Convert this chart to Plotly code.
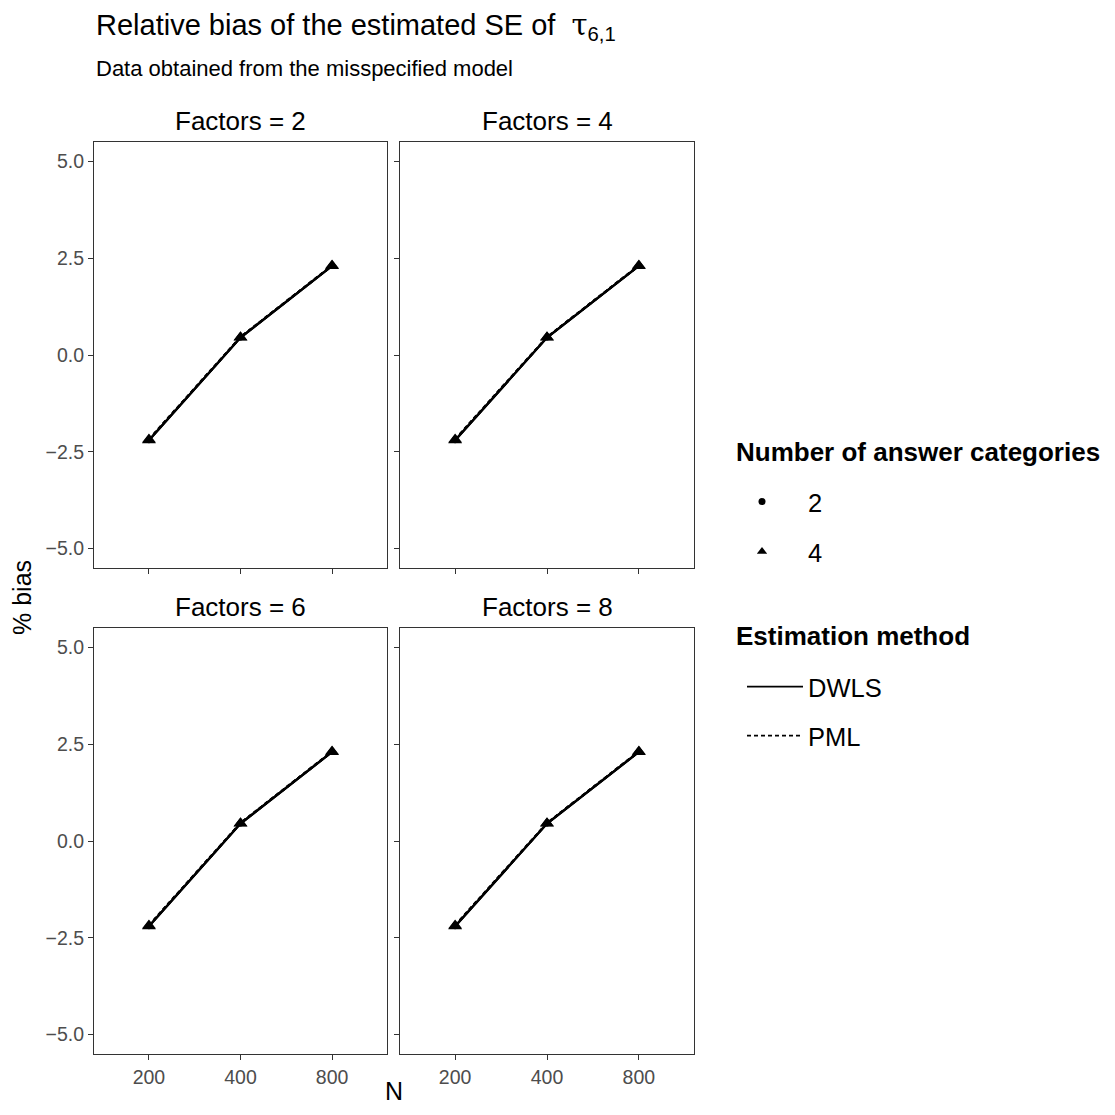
import plotly.graph_objects as go

# ---- data ----
N_levels = ["200", "400", "800"]
factors = [2, 4, 6, 8]
categories = ["2", "4"]
methods = ["DWLS", "PML"]
# % bias per N (same pattern in every facet)
bias_dwls_cat2 = [-2.20, 0.45, 2.30]
bias_dwls_cat4 = [-2.20, 0.45, 2.30]
bias_pml_cat2 = [-2.18, 0.46, 2.31]
bias_pml_cat4 = [-2.18, 0.46, 2.31]
bias = {
    ("DWLS", "2"): bias_dwls_cat2,
    ("DWLS", "4"): bias_dwls_cat4,
    ("PML", "2"): bias_pml_cat2,
    ("PML", "4"): bias_pml_cat4,
}
y_ticks = [-5.0, -2.5, 0.0, 2.5, 5.0]
y_ticklabels = ["\u22125.0", "\u22122.5", "0.0", "2.5", "5.0"]

# page has an 8px body margin; figure fills the rest
OFF = 8
W = H = 1115 - 2 * OFF
FONT = "Liberation Sans"


def fx(p):
    return (p - OFF) / W


def fy(p):
    return 1 - (p - OFF) / H


# panel pixel boxes in the target picture (left, right, top, bottom)
panels = [
    (94, 387, 142, 568),
    (400, 694, 142, 568),
    (94, 387, 628, 1054),
    (400, 694, 628, 1054),
]

fig = go.Figure()
layout = {}
dash = {"DWLS": "solid", "PML": "4px,3px"}
symbol = {"2": "circle", "4": "triangle-up"}
msize = {"2": 6, "4": 12}
tickfont = dict(family=FONT, size=19.5, color="#4d4d4d")

for i, (f, (l, r, t, b)) in enumerate(zip(factors, panels)):
    idx = "" if i == 0 else str(i + 1)
    xa, ya = "x" + idx, "y" + idx
    layout["xaxis" + idx] = dict(
        domain=[fx(l), fx(r)], anchor=ya, type="category",
        categoryorder="array", categoryarray=N_levels,
        range=[-0.6, 2.6], showline=True, mirror=True, linecolor="#333333",
        linewidth=1.2, ticks="outside", ticklen=5, tickcolor="#333333",
        tickwidth=1.2, showticklabels=(i >= 2), showgrid=False, zeroline=False,
        tickfont=tickfont,
    )
    layout["yaxis" + idx] = dict(
        domain=[fy(b), fy(t)], anchor=xa, range=[-5.5, 5.5],
        tickvals=y_ticks, ticktext=y_ticklabels,
        showline=True, mirror=True, linecolor="#333333", linewidth=1.2,
        ticks="outside", ticklen=5, tickcolor="#333333", tickwidth=1.2,
        showticklabels=(i % 2 == 0), showgrid=False, zeroline=False,
        tickfont=tickfont,
    )
    for cat in categories:
        for m in methods:
            fig.add_trace(go.Scatter(
                x=N_levels, y=bias[(m, cat)], xaxis=xa, yaxis=ya,
                mode="lines+markers",
                line=dict(color="black", width=2.3, dash=dash[m]),
                marker=dict(symbol=symbol[cat], size=msize[cat], color="black"),
                showlegend=False, hoverinfo="x+y",
            ))

# legend entries (one legend per entry for ggplot-like spacing)
legend_font = dict(family=FONT, size=25.5, color="black")
fig.add_trace(go.Scatter(x=[None], y=[None], mode="markers", name="2",
                         marker=dict(symbol="circle", size=7, color="black"),
                         legend="legend", showlegend=True))
fig.add_trace(go.Scatter(x=[None], y=[None], mode="markers", name="4",
                         marker=dict(symbol="triangle-up", size=9, color="black"),
                         legend="legend2", showlegend=True))
fig.add_trace(go.Scatter(x=[None], y=[None], mode="lines", name="DWLS",
                         line=dict(color="black", width=1.8, dash="solid"),
                         legend="legend3", showlegend=True))
fig.add_trace(go.Scatter(x=[None], y=[None], mode="lines", name="PML",
                         line=dict(color="black", width=1.8, dash="4px,3px"),
                         legend="legend4", showlegend=True))


def leg(xpx, ypx, iw):
    return dict(x=fx(xpx), y=fy(ypx), xanchor="left", yanchor="middle",
                font=legend_font, bgcolor="rgba(0,0,0,0)", borderwidth=0,
                itemwidth=iw)


layout["legend"] = leg(716, 502, 82)
layout["legend2"] = leg(716, 552, 82)
layout["legend3"] = leg(742, 687, 56)
layout["legend4"] = leg(742, 736, 56)

annotations = []
for f, (l, r, t, b) in zip(factors, panels):
    annotations.append(dict(
        text=f"Factors = {f}", x=fx((l + r) / 2), y=fy(t - 21),
        xref="paper", yref="paper", showarrow=False, xanchor="center",
        yanchor="middle", font=dict(family=FONT, size=26, color="black")))
annotations.append(dict(
    text="Relative bias of the estimated SE of  "
         "<span style='font-family:DejaVu Serif'>\u03c4</span><sub>6,1</sub>",
    x=fx(94), y=fy(27), xref="paper", yref="paper", showarrow=False,
    xanchor="left", yanchor="middle", font=dict(family=FONT, size=29, color="black")))
annotations.append(dict(
    text="Data obtained from the misspecified model",
    x=fx(94), y=fy(68), xref="paper", yref="paper", showarrow=False,
    xanchor="left", yanchor="middle", font=dict(family=FONT, size=22, color="black")))
annotations.append(dict(
    text="<b>Number of answer categories</b>", x=fx(734), y=fy(452),
    xref="paper", yref="paper", showarrow=False, xanchor="left",
    yanchor="middle", font=dict(family=FONT, size=26, color="black")))
annotations.append(dict(
    text="<b>Estimation method</b>", x=fx(734), y=fy(636),
    xref="paper", yref="paper", showarrow=False, xanchor="left",
    yanchor="middle", font=dict(family=FONT, size=26, color="black")))
annotations.append(dict(
    text="% bias", x=fx(22), y=fy(598), xref="paper", yref="paper",
    showarrow=False, textangle=-90, xanchor="center", yanchor="middle",
    font=dict(family=FONT, size=25, color="black")))
annotations.append(dict(
    text="N", x=fx(394), y=0, xref="paper", yref="paper",
    showarrow=False, xanchor="center", yanchor="bottom",
    font=dict(family=FONT, size=25, color="black")))

fig.update_layout(
    width=W, height=H, margin=dict(l=0, r=0, t=0, b=0, autoexpand=False),
    plot_bgcolor="white", paper_bgcolor="white",
    annotations=annotations, **layout,
)

fig.write_html("out.html")
